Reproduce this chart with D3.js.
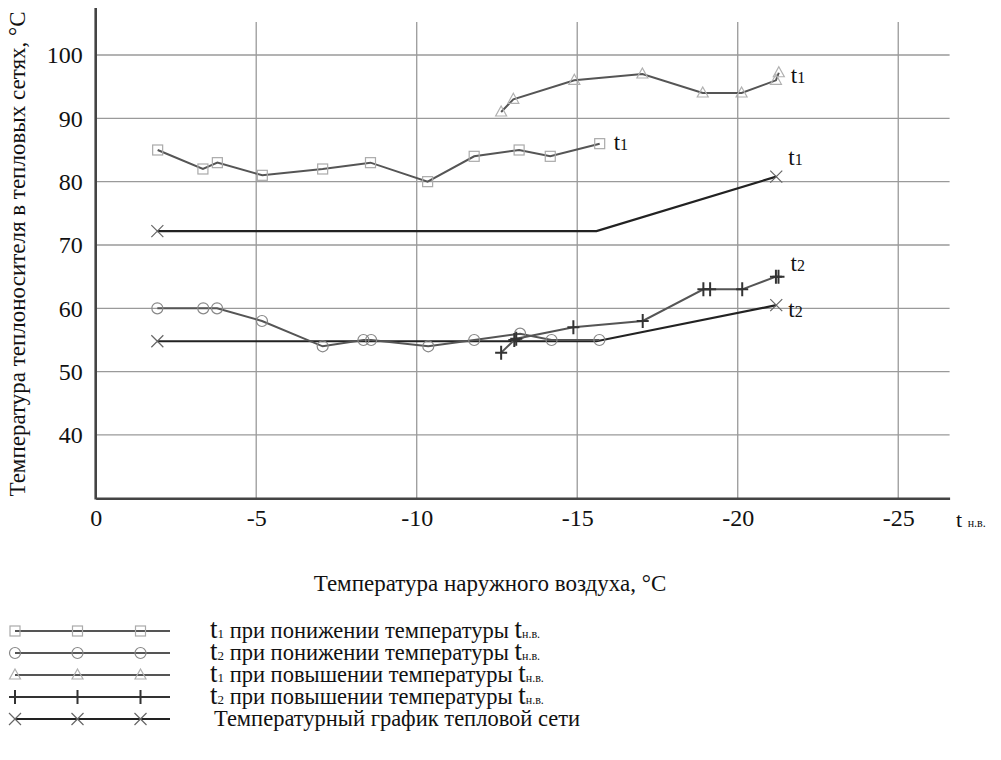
<!DOCTYPE html>
<html>
<head>
<meta charset="utf-8">
<script src="https://cdn.jsdelivr.net/npm/d3@7"></script>
<style>
body { margin: 0; background: #fff; }
svg text { font-family: "Liberation Serif", "Times New Roman", "DejaVu Serif", serif !important; fill: #111; }
</style>
</head>
<body>
<script>
// outdoor air temperature ticks and coolant temperature ticks
var xTicks = [0, -5, -10, -15, -20, -25];
var yTicks = [40, 50, 60, 70, 80, 90, 100];

// t1 when outdoor temperature falls (squares)
var t1DownX = [-1.93, -3.34, -3.79, -5.19, -7.07, -8.56, -10.34, -11.79, -13.19, -14.16, -15.7];
var t1DownY = [85, 82, 83, 81, 82, 83, 80, 84, 85, 84, 86];

// t2 when outdoor temperature falls (circles)
var t2DownX = [-1.92, -3.35, -3.78, -5.18, -7.07, -8.34, -8.58, -10.36, -11.79, -13.22, -14.2, -15.69];
var t2DownY = [60, 60, 60, 58, 54, 55, 55, 54, 55, 56, 55, 55];

// t1 when outdoor temperature rises (triangles)
var t1UpX = [-12.63, -13.01, -14.91, -17.03, -18.91, -20.12, -21.19, -21.28];
var t1UpY = [91, 93, 96, 97, 94, 94, 96, 97.2];

// t2 when outdoor temperature rises (plus)
var t2UpX = [-12.63, -13.04, -13.1, -14.88, -17.04, -18.93, -19.14, -20.14, -21.19, -21.27];
var t2UpY = [53, 55, 55.2, 57, 58, 63, 63, 63, 65, 65];

// heating network temperature schedule (crosses at the ends only)
var schedX = [-1.92, -15.6, -21.2];
var schedT1 = [72.2, 72.2, 80.8];
var schedT2 = [54.8, 54.8, 60.5];

var legendLabels = [
  ["t", "1", " при понижении температуры ", true],
  ["t", "2", " при понижении температуры ", true],
  ["t", "1", " при повышении температуры ", true],
  ["t", "2", " при повышении температуры ", true],
  ["", "", "Температурный график  тепловой сети", false]
];

var svg = d3.select("body").append("svg").attr("width", 1001).attr("height", 760);

var x = d3.scaleLinear().domain([0, -26.6]).range([95.7, 949.6]);
var y = d3.scaleLinear().domain([30, 100]).range([498.3, 55]);

// grid
svg.append("g").selectAll("line").data(yTicks).join("line")
  .attr("x1", x(0)).attr("x2", x(-26.6))
  .attr("y1", d => y(d)).attr("y2", d => y(d))
  .attr("stroke", "#9a9a9a").attr("stroke-width", 1.3);
svg.append("g").selectAll("line").data(xTicks.slice(1)).join("line")
  .attr("x1", d => x(d)).attr("x2", d => x(d))
  .attr("y1", y(30)).attr("y2", y(105.2))
  .attr("stroke", "#9a9a9a").attr("stroke-width", 1.3);

// axes
var xAxis = svg.append("g").attr("transform", "translate(0," + y(30) + ")")
  .call(d3.axisBottom(x).tickValues(xTicks).tickSize(0).tickPadding(11)
    .tickFormat(d => d < 0 ? "-" + Math.abs(d) : "" + d));
xAxis.select(".domain").attr("stroke", "#444").attr("stroke-width", 2.6);
xAxis.selectAll("text").attr("font-size", 24).attr("fill", "#111");

var yAxis = svg.append("g").attr("transform", "translate(" + x(0) + ",0)")
  .call(d3.axisLeft(y).tickValues(yTicks).tickSize(0).tickPadding(13));
yAxis.select(".domain").remove();
yAxis.selectAll("text").attr("font-size", 24).attr("fill", "#111");
svg.append("line").attr("x1", x(0)).attr("x2", x(0)).attr("y1", 8).attr("y2", y(30) + 1.3)
  .attr("stroke", "#444").attr("stroke-width", 2.6);

// axis titles
svg.append("text").attr("transform", "translate(25,254) rotate(-90)")
  .attr("text-anchor", "middle").attr("font-size", 23)
  .text("Температура теплоносителя в тепловых сетях, °С");
svg.append("text").attr("x", 490).attr("y", 591).attr("text-anchor", "middle").attr("font-size", 23)
  .text("Температура наружного воздуха, °С");
var tnv = svg.append("text").attr("x", 956).attr("y", 527);
tnv.append("tspan").attr("font-size", 22).text("t ");
tnv.append("tspan").attr("font-size", 12).text("н.в.");

// markers
function marker(g, kind, cx, cy) {
  if (kind === "square") {
    g.append("rect").attr("x", cx - 5).attr("y", cy - 5).attr("width", 10).attr("height", 10)
      .attr("fill", "none").attr("stroke", "#aaa").attr("stroke-width", 1.2);
  } else if (kind === "circle") {
    g.append("circle").attr("cx", cx).attr("cy", cy).attr("r", 5.5)
      .attr("fill", "none").attr("stroke", "#888").attr("stroke-width", 1.2);
  } else if (kind === "triangle") {
    g.append("path").attr("d", "M" + cx + "," + (cy - 6) + "L" + (cx + 5.5) + "," + (cy + 4) + "L" + (cx - 5.5) + "," + (cy + 4) + "Z")
      .attr("fill", "none").attr("stroke", "#b0b0b0").attr("stroke-width", 1.2);
  } else if (kind === "plus") {
    g.append("path").attr("d", "M" + (cx - 6) + "," + cy + "H" + (cx + 6) + "M" + cx + "," + (cy - 7) + "V" + (cy + 7))
      .attr("stroke", "#333").attr("stroke-width", 2);
  } else if (kind === "cross") {
    g.append("path").attr("d", "M" + (cx - 6) + "," + (cy - 6) + "L" + (cx + 6) + "," + (cy + 6) + "M" + (cx + 6) + "," + (cy - 6) + "L" + (cx - 6) + "," + (cy + 6))
      .attr("stroke", "#666").attr("stroke-width", 1.2);
  }
}

var line = d3.line().x(d => x(d[0])).y(d => y(d[1]));

function series(xs, ys, kind, color, width, markIdx) {
  var pts = xs.map((v, i) => [v, ys[i]]);
  var g = svg.append("g");
  g.append("path").attr("d", line(pts)).attr("fill", "none").attr("stroke", color).attr("stroke-width", width);
  pts.forEach((p, i) => {
    if (!markIdx || markIdx.indexOf(i) >= 0) marker(g, kind, x(p[0]), y(p[1]));
  });
}

series(schedX, schedT1, "cross", "#222", 2.2, [0, 2]);
series(schedX, schedT2, "cross", "#222", 2.2, [0, 2]);
series(t1DownX, t1DownY, "square", "#555", 2, null);
series(t2DownX, t2DownY, "circle", "#555", 2, null);
series(t1UpX, t1UpY, "triangle", "#555", 2, null);
series(t2UpX, t2UpY, "plus", "#555", 2, null);

// series end labels
function endLabel(px, py, sub) {
  var t = svg.append("text").attr("x", px).attr("y", py);
  t.append("tspan").attr("font-size", 23).text("t");
  t.append("tspan").attr("font-size", 16).text(sub);
}
endLabel(x(-15.7) + 14, y(86) + 6, "1");
endLabel(x(-21.28) + 12, y(97.2) + 10, "1");
endLabel(x(-21.2) + 12, y(80.8) - 12, "1");
endLabel(x(-21.27) + 12, y(65) - 6, "2");
endLabel(x(-21.2) + 12, y(60.5) + 12, "2");

// legend
var kinds = ["square", "circle", "triangle", "plus", "cross"];
var lineColors = ["#555", "#555", "#555", "#333", "#222"];
kinds.forEach((k, i) => {
  var ly = 631 + i * 22;
  var g = svg.append("g");
  g.append("line").attr("x1", 15).attr("x2", 170).attr("y1", ly).attr("y2", ly)
    .attr("stroke", lineColors[i]).attr("stroke-width", 2);
  [15, 77.5, 140.5].forEach(mx => marker(g, k, mx, ly));
  var lab = legendLabels[i];
  var t = svg.append("text").attr("x", lab[0] ? 210 : 214).attr("y", ly + 7);
  if (lab[0]) {
    t.append("tspan").attr("font-size", 27).text(lab[0]);
    t.append("tspan").attr("font-size", 13).text(lab[1]);
  }
  t.append("tspan").attr("font-size", 22.5).text(lab[2]);
  if (lab[3]) {
    t.append("tspan").attr("font-size", 27).text("t");
    t.append("tspan").attr("font-size", 12).text("н.в.");
  }
});
</script>
</body>
</html>
